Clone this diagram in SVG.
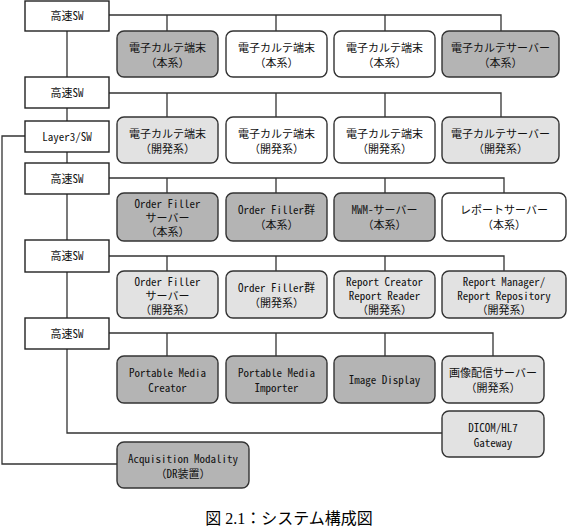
<svg xmlns="http://www.w3.org/2000/svg" width="567" height="527" viewBox="0 0 567 527">
<style>
.sw{fill:#fff;stroke:#222;stroke-width:1.4}
.n{stroke:#333;stroke-width:1.4}
.d{fill:#b4b4b4}
.l{fill:#e2e2e2}
.w{fill:#fff}
.t{font-family:"Noto Sans Mono CJK JP","Noto Sans CJK JP",sans-serif;font-size:11px;fill:#111;text-anchor:middle}
.c{fill:none;stroke:#333;stroke-width:1.3}
.cap{font-family:"Liberation Serif","Noto Sans CJK JP",serif;font-size:16px;fill:#000;text-anchor:middle}
</style>
<g id="connectors" class="c">
<path d="M67 31V77M67 108V121M67 152V163M67 194V240M67 272V318M67 349V433H442"/>
<path d="M25 136H2V464H117"/>
<path d="M109 15H501V31M167 15V31M276 15V31M385 15V31"/>
<path d="M109 93H501V117M167 93V117M276 93V117M385 93V117"/>
<path d="M109 178H504V193M167 178V193M276 178V193M385 178V193"/>
<path d="M109 256H504V271M167 256V271M276 256V271M385 256V271"/>
<path d="M109 333H493V356M167 333V356M276 333V356M385 333V356"/>
</g>
<g id="sw1"><rect class="sw" x="25" y="1" width="84" height="30"/><text class="t" x="67" y="20">高速SW</text></g>
<g id="sw2"><rect class="sw" x="25" y="77" width="84" height="31"/><text class="t" x="67" y="97">高速SW</text></g>
<g id="l3sw"><rect class="sw" x="25" y="121" width="84" height="31"/><text class="t" x="67" y="141">Layer3/SW</text></g>
<g id="sw3"><rect class="sw" x="25" y="163" width="84" height="31"/><text class="t" x="67" y="183">高速SW</text></g>
<g id="sw4"><rect class="sw" x="25" y="240" width="84" height="32"/><text class="t" x="67" y="260">高速SW</text></g>
<g id="sw5"><rect class="sw" x="25" y="318" width="84" height="31"/><text class="t" x="67" y="338">高速SW</text></g>

<g id="r1n1"><rect class="n d" x="117" y="31" width="101" height="46" rx="7"/><text class="t" x="167.5" y="52">電子カルテ端末</text><text class="t" x="167.5" y="67">（本系）</text></g>
<g id="r1n2"><rect class="n w" x="226" y="31" width="101" height="46" rx="7"/><text class="t" x="276.5" y="52">電子カルテ端末</text><text class="t" x="276.5" y="67">（本系）</text></g>
<g id="r1n3"><rect class="n w" x="334" y="31" width="101" height="46" rx="7"/><text class="t" x="384.5" y="52">電子カルテ端末</text><text class="t" x="384.5" y="67">（本系）</text></g>
<g id="r1n4"><rect class="n d" x="442" y="31" width="117" height="46" rx="7"/><text class="t" x="500.5" y="52">電子カルテサーバー</text><text class="t" x="500.5" y="67">（本系）</text></g>

<g id="r2n1"><rect class="n l" x="117" y="117" width="101" height="46" rx="7"/><text class="t" x="167.5" y="138">電子カルテ端末</text><text class="t" x="167.5" y="153">（開発系）</text></g>
<g id="r2n2"><rect class="n w" x="226" y="117" width="101" height="46" rx="7"/><text class="t" x="276.5" y="138">電子カルテ端末</text><text class="t" x="276.5" y="153">（開発系）</text></g>
<g id="r2n3"><rect class="n w" x="334" y="117" width="101" height="46" rx="7"/><text class="t" x="384.5" y="138">電子カルテ端末</text><text class="t" x="384.5" y="153">（開発系）</text></g>
<g id="r2n4"><rect class="n l" x="442" y="117" width="117" height="46" rx="7"/><text class="t" x="500.5" y="138">電子カルテサーバー</text><text class="t" x="500.5" y="153">（開発系）</text></g>

<g id="r3n1"><rect class="n d" x="117" y="193" width="101" height="48" rx="7"/><text class="t" x="167.5" y="208">Order Filler</text><text class="t" x="167.5" y="222">サーバー</text><text class="t" x="167.5" y="236">（本系）</text></g>
<g id="r3n2"><rect class="n d" x="226" y="193" width="101" height="48" rx="7"/><text class="t" x="276.5" y="214">Order Filler群</text><text class="t" x="276.5" y="229">（本系）</text></g>
<g id="r3n3"><rect class="n d" x="334" y="193" width="101" height="48" rx="7"/><text class="t" x="384.5" y="214">MWM-サーバー</text><text class="t" x="384.5" y="229">（本系）</text></g>
<g id="r3n4"><rect class="n w" x="442" y="193" width="124" height="48" rx="7"/><text class="t" x="504" y="214">レポートサーバー</text><text class="t" x="504" y="229">（本系）</text></g>

<g id="r4n1"><rect class="n l" x="117" y="271" width="101" height="47" rx="7"/><text class="t" x="167.5" y="286">Order Filler</text><text class="t" x="167.5" y="300">サーバー</text><text class="t" x="167.5" y="314">（開発系）</text></g>
<g id="r4n2"><rect class="n l" x="226" y="271" width="101" height="47" rx="7"/><text class="t" x="276.5" y="292">Order Filler群</text><text class="t" x="276.5" y="307">（開発系）</text></g>
<g id="r4n3"><rect class="n l" x="334" y="271" width="101" height="47" rx="7"/><text class="t" x="384.5" y="286">Report Creator</text><text class="t" x="384.5" y="300">Report Reader</text><text class="t" x="384.5" y="314">（開発系）</text></g>
<g id="r4n4"><rect class="n l" x="442" y="271" width="124" height="47" rx="7"/><text class="t" x="504" y="286">Report Manager/</text><text class="t" x="504" y="300">Report Repository</text><text class="t" x="504" y="314">（開発系）</text></g>

<g id="r5n1"><rect class="n d" x="117" y="356" width="101" height="47" rx="7"/><text class="t" x="167.5" y="377">Portable Media</text><text class="t" x="167.5" y="392">Creator</text></g>
<g id="r5n2"><rect class="n d" x="226" y="356" width="101" height="47" rx="7"/><text class="t" x="276.5" y="377">Portable Media</text><text class="t" x="276.5" y="392">Importer</text></g>
<g id="r5n3"><rect class="n d" x="334" y="356" width="101" height="47" rx="7"/><text class="t" x="384.5" y="384">Image Display</text></g>
<g id="r5n4"><rect class="n l" x="442" y="356" width="102" height="47" rx="7"/><text class="t" x="493" y="377">画像配信サーバー</text><text class="t" x="493" y="392">（開発系）</text></g>

<g id="gateway"><rect class="n l" x="442" y="411" width="102" height="46" rx="7"/><text class="t" x="493" y="432">DICOM/HL7</text><text class="t" x="493" y="447">Gateway</text></g>
<g id="acq"><rect class="n d" x="117" y="442" width="132" height="46" rx="7"/><text class="t" x="183" y="463">Acquisition Modality</text><text class="t" x="183" y="478">（DR装置）</text></g>

<text class="cap" x="289" y="524">図 2.1：システム構成図</text>
</svg>
